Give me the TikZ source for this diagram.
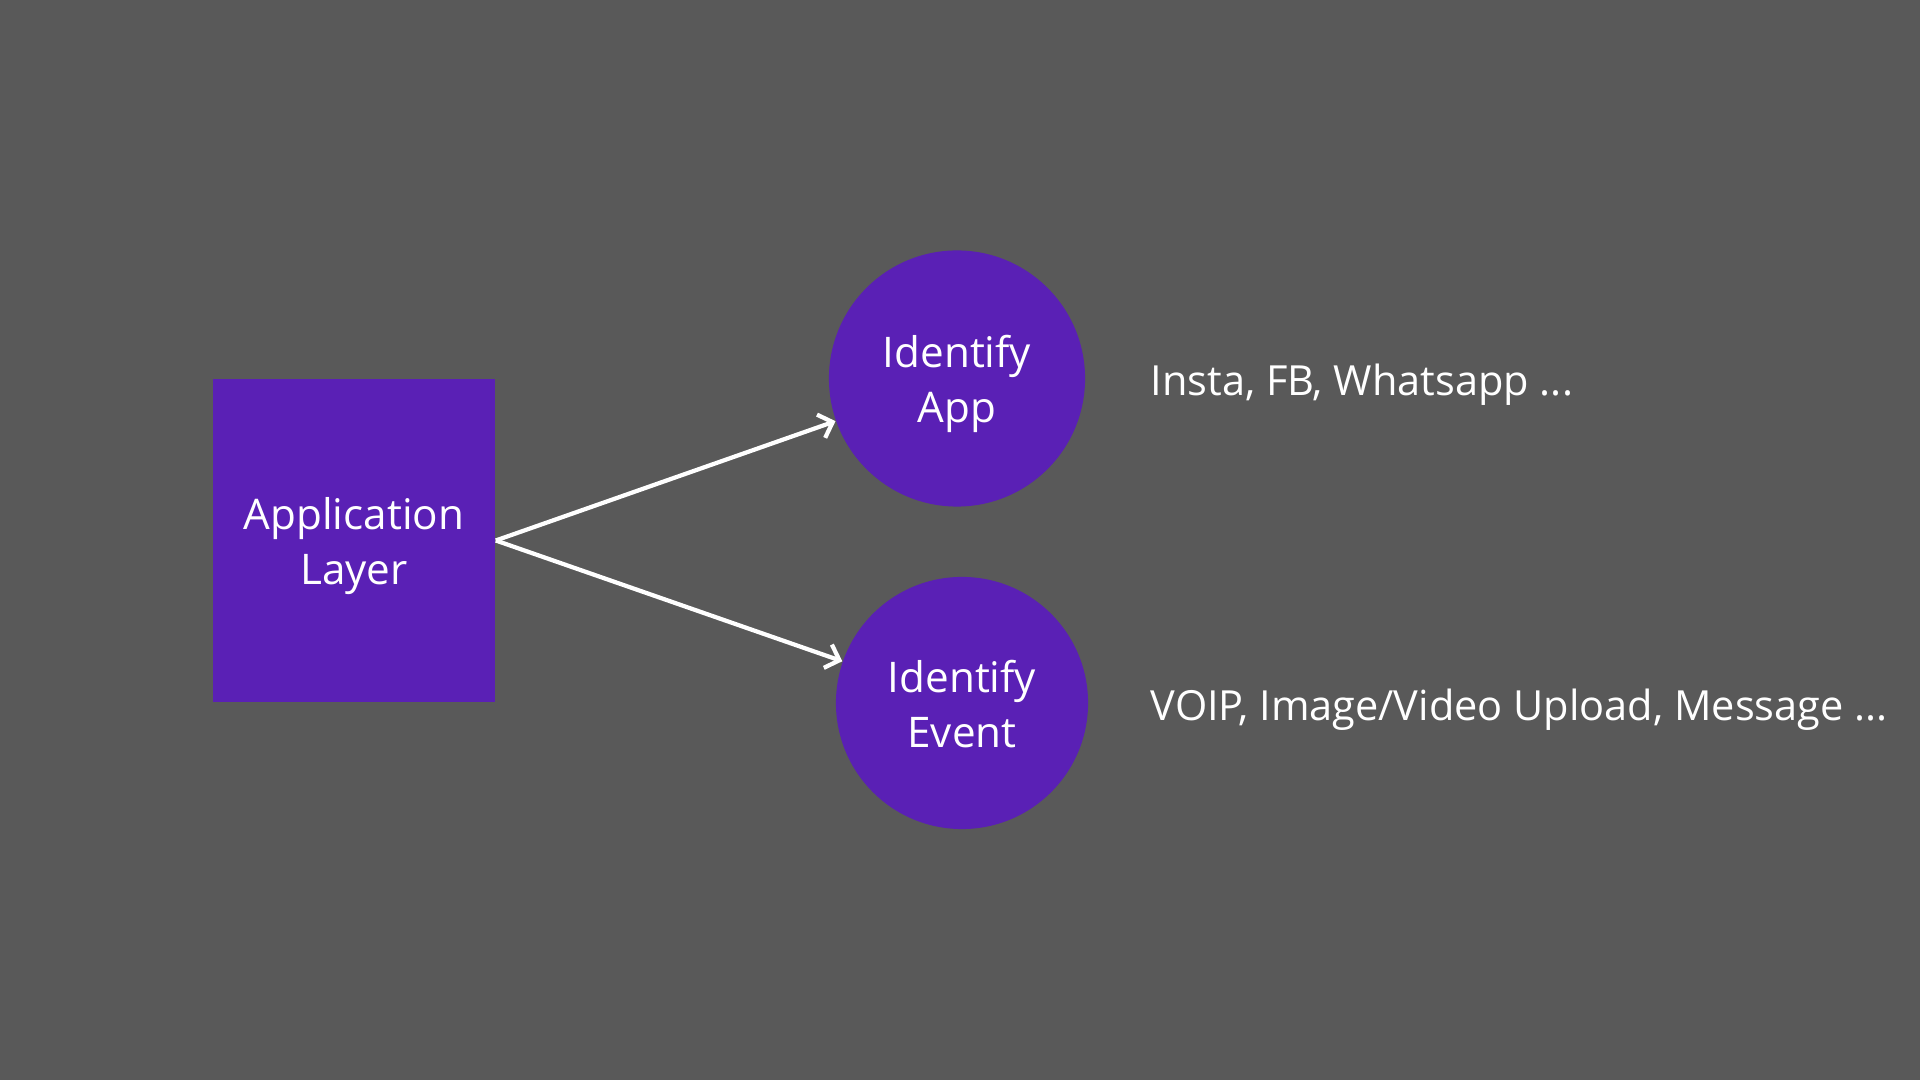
\documentclass[tikz,border=0pt]{standalone}
\usepackage{fontspec}
\setmainfont{Open Sans}
\usetikzlibrary{arrows.meta}
\definecolor{bg}{HTML}{595959}
\definecolor{purp}{HTML}{5A20B5}
\begin{document}
\begin{tikzpicture}[x=0.01cm,y=-0.01cm,
  txt/.style={text=white,font=\fontsize{12}{15.6}\selectfont,align=center,inner sep=0pt},
  boxnode/.style={fill=purp,draw=none,minimum width=2.82cm,minimum height=3.23cm,inner sep=0pt},
  circnode/.style={circle,fill=purp,draw=none,inner sep=0pt},
  arr/.style={draw=white,line width=1.2pt,-{Straight Barb[length=3.5pt,width=7pt,line width=1.2pt]}},
  label/.style={text=white,font=\fontsize{11.8}{14}\selectfont,anchor=base west,inner sep=0pt}]
\fill[bg] (0,0) rectangle (1920,1080);
\useasboundingbox (0,0) rectangle (1920,1080);
\node[boxnode] (app) at (354,540.5) {};
\node[txt] (appt) at (354,546) {Application\\Layer};
\node[circnode,minimum size=2.56cm] (ia) at (957,378.5) {};
\node[txt] (iat) at (957,384) {Identify\\App};
\node[circnode,minimum size=2.52cm] (ie) at (962,703) {};
\node[txt] (iet) at (962,704) {Identify\\Event};
\draw[arr] (app.east) -- (ia);
\draw[arr] (app.east) -- (ie);
\node[label] (l1) at (1150,396) {Insta, FB, Whatsapp ...};
\node[label] (l2) at (1150,721) {VOIP, Image/Video Upload, Message ...};
\end{tikzpicture}
\end{document}
